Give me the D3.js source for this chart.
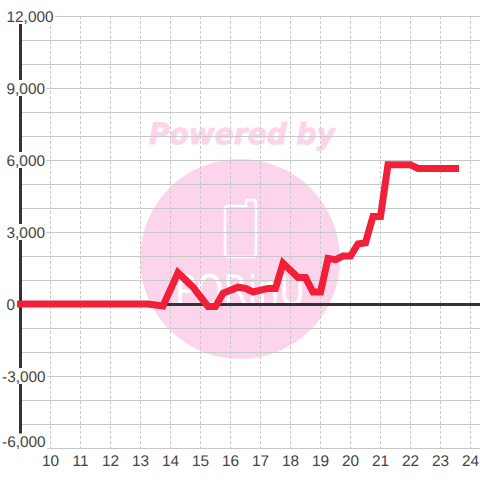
<!DOCTYPE html>
<html><head><meta charset="utf-8">
<script src="https://cdnjs.cloudflare.com/ajax/libs/d3/7.8.5/d3.min.js"></script>
<style>html,body{margin:0;padding:0;background:#fff}svg{display:block}text{font-family:"Liberation Sans",Arial,sans-serif;text-rendering:geometricPrecision}</style>
</head><body><svg id="c" width="480" height="480"></svg>
<script>
const hours=[9,13,13.25,13.75,14.25,14.75,15.25,15.5,15.75,16.25,16.5,16.75,17.25,17.5,17.75,18.25,18.5,18.75,19,19.25,19.5,19.75,20,20.25,20.5,20.75,21,21.25,22,22.25,23.5];
const values=[0,0,0,-80,1300,700,-100,-100,450,700,650,500,650,650,1700,1100,1100,500,500,1900,1850,2000,2000,2500,2550,3650,3650,5800,5800,5650,5650];
const xTicks=[10,11,12,13,14,15,16,17,18,19,20,21,22,23,24];
const yLabelled=[12000,9000,6000,3000,0,-3000,-6000];
const yGrid=d3.range(-6000,12001,1000);
const svg=d3.select("#c");
const x=d3.scaleLinear().domain([9,25]).range([20.5,500.5]);
const y=d3.scaleLinear().domain([-6000,12000]).range([448,16]);
const fmt=d3.formatLocale({decimal:".",thousands:",",grouping:[3],currency:["",""],minus:"-"}).format(",");
const wm=svg.append("g");
wm.append("circle").attr("cx",240).attr("cy",259).attr("r",100).attr("fill","#fcd5ec");
wm.append("text").attr("x",242).attr("y",144).attr("text-anchor","middle").style("font-family","DejaVu Sans").style("font-weight","bold").style("font-style","italic").style("font-size","29px").attr("fill","#fcd5ec").attr("stroke","#fcd5ec").attr("stroke-width",1).attr("textLength",186).attr("lengthAdjust","spacingAndGlyphs").text("Powered by");
wm.append("path").attr("d","M225 209Q225 206 228 206H246V202Q246 200 249 200H253Q256 200 256 203V254Q256 257 253 257H228Q225 257 225 254Z").attr("fill","none").attr("stroke","#fff").attr("stroke-width",2.5);
wm.append("text").attr("x",175).attr("y",305).style("font-family","DejaVu Sans").style("font-size","42px").attr("textLength",130).attr("lengthAdjust","spacingAndGlyphs").attr("fill","#fff").text("PQRinU");
const g=svg.append("g");
g.selectAll("line.h").data(yGrid).join("line").attr("x1",20).attr("x2",480).attr("y1",d=>y(d)+.5).attr("y2",d=>y(d)+.5).attr("stroke","#c8c8c8").attr("stroke-width",1);
g.selectAll("line.v").data(xTicks).join("line").attr("x1",d=>x(d)).attr("x2",d=>x(d)).attr("y1",16).attr("y2",448).attr("stroke","#c8c8c8").attr("stroke-width",1).attr("stroke-dasharray","3,2");
g.append("line").attr("x1",20).attr("x2",480).attr("y1",y(0)+.5).attr("y2",y(0)+.5).attr("stroke","#333").attr("stroke-width",3);
g.append("line").attr("x1",20.5).attr("x2",20.5).attr("y1",16).attr("y2",448).attr("stroke","#333").attr("stroke-width",3);
const lab=svg.append("g");
yLabelled.forEach(v=>{
 const cy=v===-6000?441.5:y(v);
 const t=lab.append("text").attr("x",v<0?2:6.5).attr("y",cy+5.5).style("font-size","15.4px").attr("fill","#444").text(fmt(v));
 const b=t.node().getBBox();
 if(v!==0) lab.insert("rect","text").attr("x",b.x).attr("y",cy-8).attr("width",b.width+1.5).attr("height",16).attr("fill","#fff");
});
lab.selectAll("text.x").data(xTicks).join("text").attr("class","x").attr("x",d=>x(d)).attr("y",466).attr("text-anchor","middle").style("font-size","15.4px").attr("fill","#444").text(d=>d);
const line=d3.line().x((d,i)=>x(hours[i])).y(d=>y(d));
svg.append("path").attr("d",line(values)).attr("fill","none").attr("stroke","#f11f38").attr("stroke-width",7).attr("stroke-linecap","square").attr("stroke-linejoin","miter");
</script></body></html>
